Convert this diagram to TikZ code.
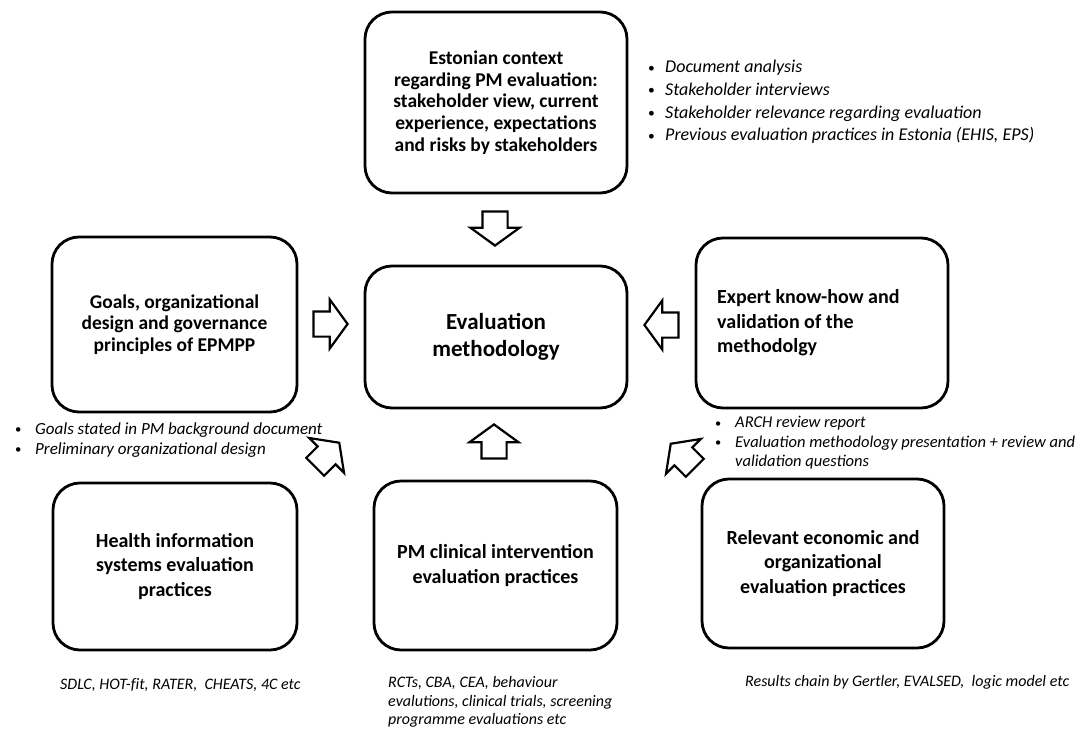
\documentclass[tikz,border=0pt]{standalone}
\usepackage{fontspec}
\setmainfont{Carlito}
\usetikzlibrary{shapes.arrows}
\newcommand{\mybul}[1][17pt]{\makebox[#1][l]{\raisebox{0.5pt}{\upshape\scalebox{0.75}{\textbullet}}}}
\begin{document}
\begin{tikzpicture}[x=1pt,y=-1pt,
  box/.style={draw, line width=2.8pt, rounded corners=27pt, inner sep=0pt, align=center,
    font=\fontsize{20}{24.4}\selectfont\bfseries},
  smallbox/.style={font=\fontsize{19.5}{21.7}\selectfont\bfseries},
  barrow/.style={draw, line width=2.2pt, single arrow, single arrow head extend=12pt,
    single arrow tip angle=108, inner xsep=0pt, inner ysep=11.5pt, minimum height=34pt, fill=white},
  note/.style={align=left, inner sep=0pt, anchor=west, font=\itshape\fontsize{18}{22.7}\selectfont}]
\useasboundingbox (0,0) rectangle (1087,731);
\fill[white] (0,0) rectangle (1087,731);

% boxes
\node[box, smallbox, minimum width=262pt, minimum height=181pt] (top) at (496,102.5)
  {Estonian context\\regarding PM evaluation:\\stakeholder view, current\\experience, expectations\\and risks by stakeholders};
\node[box, minimum width=262pt, minimum height=142pt, font=\fontsize{23}{27}\selectfont\bfseries] (center) at (496,337)
  {Evaluation\\methodology};
\node[box, smallbox, minimum width=245pt, minimum height=175pt] (left) at (174.5,324.5)
  {Goals, organizational\\design and governance\\principles of EPMPP};
\node[box, minimum width=252pt, minimum height=170pt] (right) at (822,323) {};
\node[align=left, inner sep=0pt, anchor=west, font=\fontsize{20}{24.4}\selectfont\bfseries] (righttext) at (717,323)
  {Expert know-how and\\validation of the\\methodolgy};
\node[box, minimum width=244pt, minimum height=167pt] (bl) at (175,566.5)
  {Health information\\systems evaluation\\practices};
\node[box, minimum width=243pt, minimum height=169pt] (bc) at (495.5,565.5)
  {PM clinical intervention\\evaluation practices};
\node[box, minimum width=242pt, minimum height=169pt] (br) at (823,563.5)
  {Relevant economic and\\organizational\\evaluation practices};

% block arrows
\node[barrow, rotate=-90] (adown) at (495,224) {};
\node[barrow, rotate=0] (aright) at (326,324) {};
\node[barrow, rotate=180] (aleft) at (666,325) {};
\node[barrow, rotate=90] (aup) at (494,446) {};
\node[barrow, rotate=45] (ane) at (324,458) {};
\node[barrow, rotate=135] (anw) at (686,459) {};

% notes
\node[note] (ntop) at (648,102)
  {\mybul Document analysis\\ \mybul Stakeholder interviews\\ \mybul Stakeholder relevance regarding evaluation\\ \mybul Previous evaluation practices in Estonia (EHIS, EPS)};
\node[note, font=\itshape\fontsize{17}{20}\selectfont] (ngoals) at (15,440)
  {\mybul[20pt]Goals stated in PM background document\\ \mybul[20pt]Preliminary organizational design};
\node[note, font=\itshape\fontsize{16.5}{19.5}\selectfont] (narch) at (715,443)
  {\mybul[20pt]ARCH review report\\ \mybul[20pt]Evaluation methodology presentation + review and\\ \hspace*{20pt}validation questions};
\node[note, font=\itshape\fontsize{16}{19}\selectfont] (nsdlc) at (60,685)
  {SDLC, HOT-\mbox{f}it, RATER,\ \ CHEATS, 4C etc};
\node[note, font=\itshape\fontsize{16}{18.5}\selectfont] (nrct) at (388,702)
  {RCTs, CBA, CEA, behaviour\\evalutions, clinical trials, screening\\programme evaluations etc};
\node[note, font=\itshape\fontsize{16}{19}\selectfont] (nres) at (745,682)
  {Results chain by Gertler, EVALSED,\ \ logic model etc};
\end{tikzpicture}
\end{document}
